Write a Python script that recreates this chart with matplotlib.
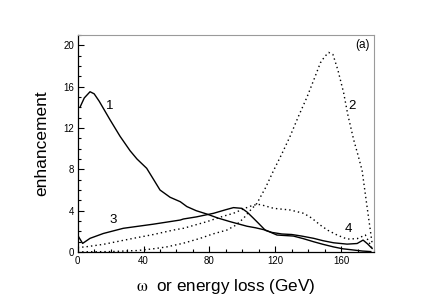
import matplotlib.pyplot as plt
from matplotlib.ticker import MultipleLocator

# curve 1 (solid)
x1 = [1.4, 4, 7.5, 10, 13, 19.6, 25.7, 31.8, 36, 41.9, 45, 50, 56.1, 62.3, 66.3, 72, 78.4,
      85, 92.6, 102.8, 108, 114, 121, 131, 137, 143.3, 149, 155.4, 161, 167.6, 173, 178]
y1 = [14.0, 14.9, 15.5, 15.3, 14.6, 12.8, 11.2, 9.8, 9.0, 8.1, 7.3, 6.0, 5.3, 4.87, 4.4, 4.0, 3.68,
      3.3, 2.94, 2.5, 2.35, 2.13, 1.65, 1.55, 1.3, 1.0, 0.75, 0.5, 0.32, 0.2, 0.1, 0.05]

# curve 3 (solid)
x3 = [0.3, 3, 7.5, 15.6, 27.7, 46, 62.3, 64.2, 72, 82.5, 90, 94.6, 99.7, 103, 106.8, 110,
      114, 118, 124, 130, 136, 143.3, 149, 155.4, 163.6, 169.7, 173.3, 176, 178.8]
y3 = [1.55, 0.84, 1.33, 1.8, 2.3, 2.7, 3.1, 3.2, 3.4, 3.75, 4.1, 4.3, 4.23, 3.85, 3.26, 2.75,
      2.1, 1.9, 1.75, 1.7, 1.55, 1.33, 1.1, 0.9, 0.77, 0.83, 1.16, 0.8, 0.35]

# curve 2 (dotted)
x2 = [0, 20, 36, 45, 54, 64, 74.4, 82, 90.6, 96, 100.7, 104, 108.8, 114, 119, 124, 129,
      134, 139.3, 144, 147.4, 150, 152.4, 155, 158, 161.5, 164, 167.6, 170, 172.7, 175.7, 178.8]
y2 = [0.02, 0.05, 0.15, 0.3, 0.5, 0.85, 1.33, 1.75, 2.13, 2.6, 3.26, 3.9, 4.7, 6.2, 7.9, 9.5, 11.2,
      13.1, 15.0, 16.9, 18.3, 18.9, 19.3, 19.1, 17.6, 15.4, 13.3, 10.85, 9.5, 7.9, 4.4, 0.84]

# curve 4 (dotted)
x4 = [0, 4.5, 15.6, 33.8, 46, 58.1, 64.2, 78.4, 88, 94.6, 101, 106.8, 110.8, 119, 129,
      137.2, 142, 147.4, 152, 157.5, 163.6, 169.7, 174.7, 178.8]
y4 = [0.45, 0.5, 0.75, 1.33, 1.7, 2.13, 2.3, 2.94, 3.45, 3.75, 4.2, 4.55, 4.6, 4.23, 4.07,
      3.75, 3.3, 2.6, 2.1, 1.65, 1.26, 1.3, 1.65, 0.35]

labels = ['1', '2', '3', '4']
label_x = [19.6, 166.6, 21.7, 164.6]
label_y = [14.1, 14.1, 3.1, 2.2]

plt.rcParams['font.family'] = ['Liberation Sans', 'DejaVu Sans']
plt.rcParams['mathtext.fontset'] = 'stix'

fig = plt.figure(figsize=(4.34, 3.03), dpi=100)
ax = fig.add_axes([0.179, 0.168, 0.683, 0.717])

ax.plot(x1, y1, color='black', lw=1.0)
ax.plot(x3, y3, color='black', lw=1.0)
ax.plot(x2, y2, color='black', lw=1.0, linestyle=(0, (1, 2.2)))
ax.plot(x4, y4, color='black', lw=1.0, linestyle=(0, (1, 2.2)))

for t, lx, ly in zip(labels, label_x, label_y):
    ax.text(lx, ly, t, fontsize=9.5, ha='center', va='center')
ax.text(172.7, 20, '(a)', fontsize=8.5, ha='center', va='center')

ax.set_xlim(0, 180)
ax.set_ylim(0, 21)
ax.xaxis.set_major_locator(MultipleLocator(40))
ax.xaxis.set_minor_locator(MultipleLocator(10))
ax.yaxis.set_major_locator(MultipleLocator(4))
ax.yaxis.set_minor_locator(MultipleLocator(1))
ax.tick_params(which='both', direction='in', labelsize=7, width=0.8, pad=2.5)
ax.tick_params(which='major', length=4)
ax.tick_params(which='minor', length=2.2)
for s in ['top', 'right']:
    ax.spines[s].set_color('#9a9a9a')
for s in ['left', 'bottom']:
    ax.spines[s].set_linewidth(0.9)

ax.set_ylabel('enhancement', fontsize=12.5, labelpad=10)
ax.set_xlabel(r'$\mathrm{\omega}$  or energy loss (GeV)', fontsize=12.3, labelpad=8)

fig.savefig('out.png', dpi=100)
